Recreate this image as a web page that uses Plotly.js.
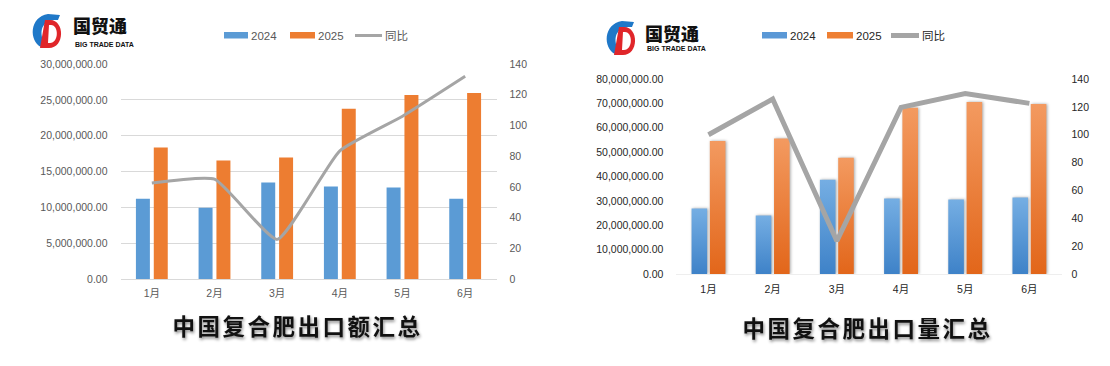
<!DOCTYPE html>
<html>
<head>
<meta charset="utf-8">
<script src="https://cdn.plot.ly/plotly-3.0.1.min.js"></script>
<style>
html,body{margin:0;padding:0;background:#fff;}
#chart{width:1110px;height:366px;}
</style>
</head>
<body>
<div id="chart"></div>
<script>
// ---------- data ----------
const months = ['1月','2月','3月','4月','5月','6月'];
const seriesNames = ['2024','2025','同比'];
const value2024 = [11.21e6, 9.95e6, 13.46e6, 12.9e6, 12.76e6, 11.21e6];
const value2025 = [18.36e6, 16.54e6, 16.96e6, 23.76e6, 25.68e6, 25.96e6];
const valueYoy  = [62.5, 65.0, 25.8, 83.5, 106, 132];
const volume2024 = [26.9e6, 24.0e6, 38.7e6, 31.0e6, 30.6e6, 31.4e6];
const volume2025 = [54.6e6, 55.6e6, 47.7e6, 68.2e6, 70.6e6, 69.7e6];
const volumeYoy  = [100, 125.6, 23.7, 119.6, 129.5, 122.5];
const titleValue = '中国复合肥出口额汇总';
const titleVolume = '中国复合肥出口量汇总';
const brandName = '国贸通';
const brandSub = 'BIG TRADE DATA';

// ---------- helpers ----------
const W = 1110, H = 366;
const px = x => x / W;
const py = y => 1 - y / H;
function pathStr(cmds, dx, dy){
  return cmds.map(c => {
    const t = c[0];
    if (t === 'Z') return 'Z';
    const pts = [];
    for (let i = 1; i < c.length; i += 2) pts.push(px(c[i] + dx).toFixed(5) + ',' + py(c[i+1] + dy).toFixed(5));
    return t + pts.join(' ');
  }).join(' ');
}
function logoShapes(dx, dy){
  const blue = [['M',41,47],['C',29,41,29,17,48,14],['L',60,15],['L',58,20],['C',46,19,36,27,45,45],['Z']];
  const red = [['M',45,20],['L',50,20],['C',65,20,65,48,49,48],['L',40,48],['Z'],
               ['M',49,25],['L',48,43],['L',50,43],['C',59,43,59,25,51,25],['Z']];
  return [
    {type:'path', xref:'paper', yref:'paper', path: pathStr(blue, dx, dy), fillcolor:'#1f78c8', line:{width:0}},
    {type:'path', xref:'paper', yref:'paper', path: pathStr(red, dx, dy), fillcolor:'#e0262a', line:{width:0}}
  ];
}
const tickFontL = {family:'Liberation Sans, Noto Sans CJK SC', size:10.5, color:'#595959'};
const tickFontR = {family:'Liberation Sans, Noto Sans CJK SC', size:10.5, color:'#262626'};
const C_BLUE = '#5B9BD5', C_ORANGE = '#ED7D31', C_GRAY = '#A5A5A5';

// ---------- traces ----------
const traces = [
  {type:'bar', x:months, y:value2024, name:seriesNames[0], xaxis:'x', yaxis:'y',
   marker:{color:C_BLUE}, width:0.223, offset:-0.254},
  {type:'bar', x:months, y:value2025, name:seriesNames[1], xaxis:'x', yaxis:'y',
   marker:{color:C_ORANGE}, width:0.223, offset:0.031},
  {type:'scatter', mode:'lines', x:months, y:valueYoy, name:seriesNames[2], xaxis:'x', yaxis:'y2',
   line:{color:C_GRAY, width:3, shape:'spline', smoothing:0.45}},
  {type:'bar', x:months, y:volume2024, name:seriesNames[0], xaxis:'x2', yaxis:'y3',
   marker:{color:'#5a98d6'}, width:0.243, offset:-0.264},
  {type:'bar', x:months, y:volume2025, name:seriesNames[1], xaxis:'x2', yaxis:'y3',
   marker:{color:'#ee7f33'}, width:0.243, offset:0.021},
  {type:'scatter', mode:'lines', x:months, y:volumeYoy, name:seriesNames[2], xaxis:'x2', yaxis:'y4',
   line:{color:C_GRAY, width:5}}
];

// ---------- legend (manual) ----------
const legendShapes = [
  {type:'rect', xref:'paper', yref:'paper', x0:px(224), x1:px(248), y0:py(38.5), y1:py(32), fillcolor:C_BLUE, line:{width:0}},
  {type:'rect', xref:'paper', yref:'paper', x0:px(290), x1:px(315), y0:py(38.5), y1:py(32), fillcolor:C_ORANGE, line:{width:0}},
  {type:'line', xref:'paper', yref:'paper', x0:px(355), x1:px(382), y0:py(35.5), y1:py(35.5), line:{color:C_GRAY, width:3}},
  {type:'rect', xref:'paper', yref:'paper', x0:px(762), x1:px(787), y0:py(38.5), y1:py(32), fillcolor:'#5a98d6', line:{width:0}},
  {type:'rect', xref:'paper', yref:'paper', x0:px(827), x1:px(853), y0:py(38.5), y1:py(32), fillcolor:'#ee7f33', line:{width:0}},
  {type:'line', xref:'paper', yref:'paper', x0:px(891), x1:px(919), y0:py(35.5), y1:py(35.5), line:{color:C_GRAY, width:5}}
];
const legFontL = {family:'Liberation Sans, Noto Sans CJK SC', size:11.5, color:'#595959'};
const legFontR = {family:'Liberation Sans, Noto Sans CJK SC', size:11.5, color:'#262626'};
function ann(text, x, y, font, xanchor){
  return {text, x:px(x), y:py(y), xref:'paper', yref:'paper', xanchor:xanchor||'left', yanchor:'middle',
          showarrow:false, font, borderpad:0};
}
const annotations = [
  ann(seriesNames[0], 250, 35.5, legFontL),
  ann(seriesNames[1], 317, 35.5, legFontL),
  ann(seriesNames[2], 384, 35.5, legFontL),
  ann(seriesNames[0], 789, 35.5, legFontR),
  ann(seriesNames[1], 855, 35.5, legFontR),
  ann(seriesNames[2], 921, 35.5, legFontR),
  // titles
  ann(titleValue, 297, 325, {family:'Noto Sans CJK SC', size:22.5, color:'#111', weight:'bold'}, 'center'),
  ann(titleVolume, 867, 327, {family:'Noto Sans CJK SC', size:22.5, color:'#111', weight:'bold'}, 'center'),
  // brand
  ann(brandName, 72, 25, {family:'Noto Sans CJK SC', size:18, color:'#111', weight:900}),
  ann(brandSub, 73.5, 44.5, {family:'Liberation Sans', size:7, color:'#111', weight:'bold'}),
  ann(brandName, 644, 33, {family:'Noto Sans CJK SC', size:18, color:'#111', weight:900}),
  ann(brandSub, 645.5, 48.5, {family:'Liberation Sans', size:7, color:'#111', weight:'bold'})
];

const layout = {
  width: W, height: H,
  margin:{l:0, r:0, t:0, b:0},
  paper_bgcolor:'#fff', plot_bgcolor:'rgba(0,0,0,0)',
  showlegend:false, hovermode:false, barmode:'overlay',
  xaxis:{domain:[px(120.5), px(496.5)], anchor:'y', type:'category', showgrid:false, zeroline:false,
         showline:false, ticks:'', tickfont:tickFontL, ticklabelstandoff:6},
  yaxis:{domain:[py(279), py(64)], anchor:'x', range:[0, 30e6], dtick:5e6, tickformat:',.2f',
         gridcolor:'#D9D9D9', gridwidth:1, zeroline:true, zerolinecolor:'#D9D9D9', zerolinewidth:1,
         showline:false, ticks:'', tickfont:tickFontL, ticklabelstandoff:12},
  yaxis2:{overlaying:'y', side:'right', anchor:'x', range:[0,140], dtick:20, showgrid:false, zeroline:false,
          showline:false, ticks:'', tickfont:tickFontL, ticklabelstandoff:12},
  xaxis2:{domain:[px(676.4), px(1061.5)], anchor:'y3', type:'category', showgrid:false, zeroline:false,
          showline:false, ticks:'', tickfont:tickFontR, ticklabelstandoff:7},
  yaxis3:{domain:[py(274), py(79)], anchor:'x2', range:[0, 80e6], dtick:10e6, tickformat:',.2f',
          showgrid:false, zeroline:true, zerolinecolor:'#EEEEEE', zerolinewidth:1,
          showline:false, ticks:'', tickfont:tickFontR, ticklabelstandoff:12},
  yaxis4:{overlaying:'y3', side:'right', anchor:'x2', range:[0,140], dtick:20, showgrid:false, zeroline:false,
          showline:false, ticks:'', tickfont:tickFontR, ticklabelstandoff:9},
  shapes: [...logoShapes(0,0), ...logoShapes(574,7), ...legendShapes],
  annotations
};

Plotly.newPlot('chart', traces, layout, {displayModeBar:false, staticPlot:true}).then(gd => {
  const svgNS = 'http://www.w3.org/2000/svg';
  const svg = gd.querySelector('svg.main-svg');
  let defs = svg.querySelector('defs');
  if (!defs) { defs = document.createElementNS(svgNS, 'defs'); svg.insertBefore(defs, svg.firstChild); }
  function grad(id, c1, c2){
    const g = document.createElementNS(svgNS, 'linearGradient');
    g.setAttribute('id', id); g.setAttribute('x1','0'); g.setAttribute('y1','0'); g.setAttribute('x2','0'); g.setAttribute('y2','1');
    [[0,c1],[1,c2]].forEach(([o,c]) => {
      const s = document.createElementNS(svgNS, 'stop');
      s.setAttribute('offset', o); s.setAttribute('stop-color', c); g.appendChild(s);
    });
    defs.appendChild(g);
  }
  grad('gBlue', '#75aee3', '#3e82c8');
  grad('gOrange', '#f39a60', '#e2661a');
  const barTraces = gd.querySelectorAll('.subplot.x2y3 .barlayer .trace');
  barTraces.forEach((t, i) => {
    t.querySelectorAll('path').forEach(p => {
      p.style.fill = i === 0 ? 'url(#gBlue)' : 'url(#gOrange)';
      p.style.filter = 'drop-shadow(1.5px 0.5px 1.5px rgba(0,0,0,0.35))';
    });
  });
  gd.querySelectorAll('.subplot.x2y4 .scatterlayer .trace path.js-line').forEach(p => {
    p.style.filter = 'drop-shadow(2px 3px 2px rgba(0,0,0,0.3))';
  });
  [6,7].forEach(i => {
    const a = gd.querySelector('.annotation[data-index="' + i + '"] text');
    if (a) {
      a.style.letterSpacing = '2.5px';
      a.style.filter = 'drop-shadow(1px 2px 1.5px rgba(0,0,0,0.45))';
    }
  });
});
</script>
</body>
</html>
